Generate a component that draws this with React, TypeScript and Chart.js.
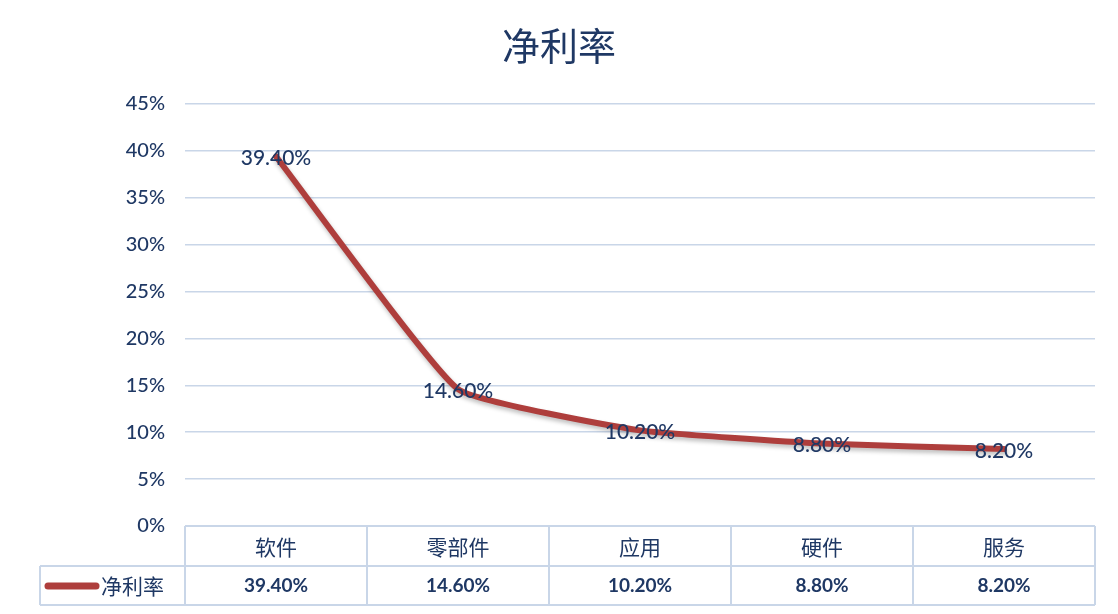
import React, { useEffect, useRef } from "react";
import { Chart, registerables } from "chart.js";

Chart.register(...registerables);

const title = "净利率";
const categories = ["软件", "零部件", "应用", "硬件", "服务"];
const netMargin = [39.4, 14.6, 10.2, 8.8, 8.2];
const valueLabels = ["39.40%", "14.60%", "10.20%", "8.80%", "8.20%"];
const seriesName = "净利率";
const yMin = 0;
const yMax = 45;
const yStep = 5;

const NAVY = "#1F3864";
const LINE = "#AE3E3C";
const GRID = "#C9D6E8";
const FONT = "Lato, 'Noto Sans CJK SC', sans-serif";
const CJK = "'Noto Sans CJK SC', Lato, sans-serif";

const W = 1102;
const H = 598;

const overlay = {
  id: "overlay",
  beforeDatasetsDraw(chart: any) {
    const ctx = chart.ctx;
    ctx.save();
    ctx.shadowColor = "rgba(0,0,0,0.25)";
    ctx.shadowBlur = 4;
    ctx.shadowOffsetX = 1;
    ctx.shadowOffsetY = 3;
  },
  afterDatasetsDraw(chart: any) {
    chart.ctx.restore();
  },
  afterDraw(chart: any) {
    const ctx = chart.ctx;
    const area = chart.chartArea;
    const xs = chart.scales.x;
    ctx.save();
    // title
    ctx.fillStyle = NAVY;
    ctx.font = `400 38px ${CJK}`;
    ctx.textAlign = "center";
    ctx.textBaseline = "middle";
    ctx.fillText(title, chart.width / 2, 38);

    // data labels
    const meta = chart.getDatasetMeta(0);
    ctx.font = `500 21px ${FONT}`;
    ctx.fillStyle = NAVY;
    meta.data.forEach((pt: any, i: number) => {
      ctx.fillText(valueLabels[i], pt.x, pt.y + 2);
    });

    // data table
    const top = area.bottom;
    const split = top + 40;
    const bottom = chart.height - 1;
    const leftEdge = 32;
    const half = (xs.getPixelForValue(1) - xs.getPixelForValue(0)) / 2;
    ctx.strokeStyle = GRID;
    ctx.lineWidth = 2;
    ctx.beginPath();
    ctx.moveTo(area.left, top);
    ctx.lineTo(area.right, top);
    ctx.moveTo(leftEdge, split);
    ctx.lineTo(area.right, split);
    ctx.moveTo(leftEdge, bottom);
    ctx.lineTo(area.right, bottom);
    ctx.moveTo(leftEdge, split);
    ctx.lineTo(leftEdge, bottom);
    for (let i = 0; i <= categories.length; i++) {
      const bx = i < categories.length ? xs.getPixelForValue(i) - half : xs.getPixelForValue(i - 1) + half;
      ctx.moveTo(bx, top);
      ctx.lineTo(bx, bottom);
    }
    ctx.stroke();

    categories.forEach((c, i) => {
      const cx = xs.getPixelForValue(i);
      ctx.fillStyle = NAVY;
      ctx.font = `21px ${CJK}`;
      ctx.fillText(c, cx, top + 21);
      ctx.font = `bold 19px ${FONT}`;
      ctx.fillText(valueLabels[i], cx, split + 20);
    });

    // legend
    const ly = split + 20;
    ctx.strokeStyle = LINE;
    ctx.lineWidth = 7;
    ctx.lineCap = "round";
    ctx.beginPath();
    ctx.moveTo(40, ly);
    ctx.lineTo(88, ly);
    ctx.stroke();
    ctx.fillStyle = NAVY;
    ctx.font = `21px ${CJK}`;
    ctx.textAlign = "left";
    ctx.fillText(seriesName, 93, ly);
    ctx.restore();
  },
};

export default function App() {
  const ref = useRef<HTMLCanvasElement | null>(null);
  useEffect(() => {
    if (!ref.current) return;
    const chart = new Chart(ref.current, {
      type: "line",
      data: {
        labels: categories,
        datasets: [
          {
            label: seriesName,
            data: netMargin,
            borderColor: LINE,
            backgroundColor: LINE,
            borderWidth: 6,
            pointRadius: 0,
            tension: 0.12,
            borderCapStyle: "round",
            borderJoinStyle: "round",
          },
        ],
      },
      options: {
        responsive: false,
        maintainAspectRatio: false,
        animation: false,
        layout: { padding: { top: 96, bottom: 80, right: 15, left: 0 } },
        plugins: {
          legend: { display: false },
          title: { display: false },
          tooltip: { enabled: false },
        },
        scales: {
          x: { display: false, offset: true },
          y: {
            min: yMin,
            max: yMax,
            border: { display: false },
            grid: { color: GRID, lineWidth: 1.5, drawTicks: false },
            ticks: {
              stepSize: yStep,
              padding: 20,
              color: NAVY,
              font: { family: FONT, size: 20, weight: "500" },
              callback: (v: any) => `${v}%`,
            },
            afterFit: (s: any) => {
              s.width = 177;
            },
          },
        },
      },
      plugins: [overlay],
    });
    return () => chart.destroy();
  }, []);
  return (
    <div style={{ width: W, height: H }}>
      <canvas ref={ref} width={W} height={H} style={{ width: W, height: H }} />
    </div>
  );
}
